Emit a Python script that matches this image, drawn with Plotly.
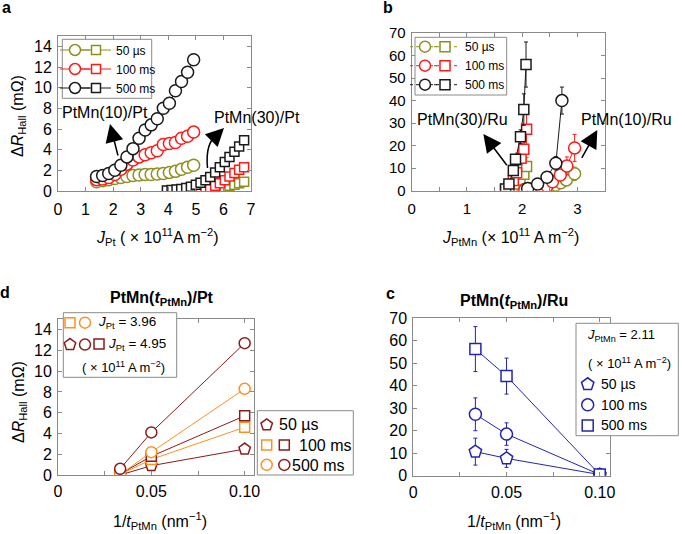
import plotly.graph_objects as go

W, H = 685, 534
FONT = "Arial, Liberation Sans, Helvetica, sans-serif"

OLIVE = "#8f8f1f"
RED = "#ff1a1a"
BLACK = "#1a1a1a"
ORANGE = "#ff9020"
DARKRED = "#8c1b1b"
BLUE = "#2424b0"
GRAY = "#8a8a8a"

# ---------------- panel a : PtMn/Pt, Delta R_Hall vs J_Pt ----------------
a_x_t10 = [1.40, 1.62, 1.84, 2.06, 2.28, 2.50, 2.72, 2.94, 3.16, 3.38, 3.60, 3.82, 4.04, 4.26, 4.48, 4.70, 4.92]
a_t10_50us = [0.9, 1.0, 1.1, 1.2, 1.3, 1.4, 1.5, 1.55, 1.6, 1.6, 1.65, 1.7, 1.8, 1.9, 2.1, 2.3, 2.5]
a_t10_100ms = [1.1, 1.15, 1.3, 1.6, 2.1, 2.6, 3.0, 3.3, 3.5, 3.7, 3.9, 4.5, 4.6, 4.7, 5.1, 5.3, 5.7]
a_t10_500ms = [1.4, 1.5, 1.7, 2.0, 2.5, 3.3, 4.1, 5.1, 5.9, 6.4, 7.0, 8.0, 8.5, 9.7, 10.6, 11.5, 12.7]

a_x_t30 = [3.95, 4.12, 4.30, 4.47, 4.65, 4.82, 5.00, 5.17, 5.35, 5.52, 5.70, 5.87, 6.05, 6.22, 6.40, 6.57, 6.75]
a_t30_50us = [None, None, None, None, None, None, None, None, None, 0.0, 0.1, 0.2, 0.35, 0.5, 0.6, 0.75, 0.9]
a_t30_100ms = [None, None, None, None, None, None, 0.0, 0.05, 0.2, 0.35, 0.5, 0.75, 1.05, 1.4, 1.75, 2.05, 2.3]
a_t30_500ms = [0.05, 0.1, 0.15, 0.2, 0.3, 0.4, 0.6, 0.8, 1.05, 1.35, 1.8, 2.3, 2.8, 3.3, 3.8, 4.3, 4.9]

# ---------------- panel b : PtMn/Ru, Delta R_Hall vs J_PtMn ----------------
b_x_t10_50us = [2.05, 2.17, 2.30, 2.42, 2.50, 2.60, 2.70, 2.80, 2.95]
b_t10_50us = [0.6, 0.8, 1.0, 1.3, 1.8, 2.5, 3.5, 4.8, 7.5]
b_t10_50us_err = [0.2, 0.2, 0.3, 0.3, 0.5, 0.5, 1.0, 1.5, 3.0]
b_x_t10_100ms = [2.05, 2.20, 2.35, 2.45, 2.55, 2.69, 2.81, 2.95]
b_t10_100ms = [0.5, 0.8, 1.2, 2.0, 4.0, 7.0, 11.0, 19.0]
b_t10_100ms_err = [0.3, 0.3, 0.5, 0.5, 1.0, 2.0, 4.0, 6.0]
b_x_t10_500ms = [2.10, 2.28, 2.45, 2.61, 2.72]
b_t10_500ms = [1.0, 3.0, 6.0, 12.2, 40.0]
b_t10_500ms_err = [0.5, 1.0, 1.5, 3.0, 6.0]

b_x_t30_50us = [1.70, 1.76, 1.82, 1.88, 1.96, 2.03, 2.08]
b_t30_50us = [0.5, 1.0, 1.8, 3.0, 4.7, 7.3, 10.7]
b_t30_50us_err = [0.3, 0.5, 0.5, 1.0, 1.5, 2.0, 4.0]
b_x_t30_100ms = [1.70, 1.76, 1.84, 1.90, 1.98, 2.03, 2.08]
b_t30_100ms = [0.5, 1.8, 4.5, 8.0, 14.4, 18.4, 27.3]
b_t30_100ms_err = [0.3, 0.5, 1.0, 2.0, 3.0, 4.0, 7.0]
b_x_t30_500ms = [1.70, 1.76, 1.84, 1.88, 1.97, 2.03, 2.07]
b_t30_500ms = [0.8, 3.0, 9.0, 14.0, 24.0, 36.0, 56.0]
b_t30_500ms_err = [0.5, 1.0, 2.0, 2.0, 3.0, 7.0, 10.0]

# ---------------- panels d and c : vs 1/t_PtMn ----------------
inv_t = [0.0333, 0.05, 0.10]
d_j396_100ms = [0.05, 1.5, 4.6]
d_j396_500ms = [0.05, 2.2, 8.3]
d_j495_50us = [0.0, 0.9, 2.5]
d_j495_100ms = [0.1, 1.8, 5.7]
d_j495_500ms = [0.6, 4.1, 12.7]

c_50us = [10.7, 7.7, 0.5]
c_50us_err = [6.0, 4.0, 0.0]
c_100ms = [27.3, 18.5, 0.5]
c_100ms_err = [7.3, 5.0, 0.0]
c_500ms = [56.3, 44.3, 0.5]
c_500ms_err = [10.0, 8.0, 0.0]

# tick labels
a_xticks = [0, 1, 2, 3, 4, 5, 6, 7]
a_yticks = [0, 2, 4, 6, 8, 10, 12, 14]
b_xticks = [0, 1, 2, 3]
b_yticks = [0, 10, 20, 30, 40, 50, 60, 70]
t_xticks = [0, 0.05, 0.10]
t_xticktext = ["0", "0.05", "0.10"]

pulse_labels = ["50 µs", "100 ms", "500 ms"]


def X(px):
    return px / W


def Y(py):
    return 1 - py / H


fig = go.Figure()


def add(x, y, xa, ya, color, symbol, size, err=None, lw=1):
    fig.add_trace(go.Scatter(
        x=x, y=y, xaxis=xa, yaxis=ya, mode="lines+markers",
        line=dict(color=color, width=lw),
        marker=dict(symbol=symbol, size=size, color="white", line=dict(color=color, width=1.5)),
        error_y=dict(type="data", array=err if err is not None else [], color=color,
                     thickness=1, width=2, visible=err is not None),
        connectgaps=False, showlegend=False, hoverinfo="skip"))


# panel a
add(a_x_t10, a_t10_50us, "x", "y", OLIVE, "circle", 12)
add(a_x_t10, a_t10_100ms, "x", "y", RED, "circle", 12)
add(a_x_t10, a_t10_500ms, "x", "y", BLACK, "circle", 12)
add(a_x_t30, a_t30_50us, "x", "y", OLIVE, "square", 9)
add(a_x_t30, a_t30_100ms, "x", "y", RED, "square", 9)
add(a_x_t30, a_t30_500ms, "x", "y", BLACK, "square", 9)

# panel b
add(b_x_t30_50us, b_t30_50us, "x2", "y2", OLIVE, "square", 10, b_t30_50us_err)
add(b_x_t30_100ms, b_t30_100ms, "x2", "y2", RED, "square", 10, b_t30_100ms_err)
add(b_x_t30_500ms, b_t30_500ms, "x2", "y2", BLACK, "square", 10, b_t30_500ms_err)
add(b_x_t10_50us, b_t10_50us, "x2", "y2", OLIVE, "circle", 12, b_t10_50us_err)
add(b_x_t10_100ms, b_t10_100ms, "x2", "y2", RED, "circle", 12, b_t10_100ms_err)
add(b_x_t10_500ms, b_t10_500ms, "x2", "y2", BLACK, "circle", 12, b_t10_500ms_err)

# panel d
add(inv_t, d_j495_50us, "x3", "y3", DARKRED, "pentagon", 12)
add(inv_t, d_j396_100ms, "x3", "y3", ORANGE, "square", 10)
add(inv_t, d_j495_100ms, "x3", "y3", DARKRED, "square", 10)
add(inv_t, d_j396_500ms, "x3", "y3", ORANGE, "circle", 11)
add(inv_t, d_j495_500ms, "x3", "y3", DARKRED, "circle", 11)

# panel c
add(inv_t, c_50us, "x4", "y4", BLUE, "pentagon", 13, c_50us_err)
add(inv_t, c_100ms, "x4", "y4", BLUE, "circle", 12, c_100ms_err)
add(inv_t, c_500ms, "x4", "y4", BLUE, "square", 11, c_500ms_err)


# ---------------- legend proxies (no data, only legend symbols) ----------------
def proxy(legend, color, symbol, size, lines=False, dash="solid", name=" "):
    fig.add_trace(go.Scatter(
        x=[None], y=[None], mode="lines+markers" if lines else "markers", name=name,
        line=dict(color=color, width=1, dash=dash),
        marker=dict(symbol=symbol, size=size, color="white", line=dict(color=color, width=1.5)),
        legend=legend, showlegend=True, hoverinfo="skip"))


for c in (OLIVE, RED, BLACK):
    proxy("legend", c, "circle", 11, True)
for c, lab in zip((OLIVE, RED, BLACK), pulse_labels):
    proxy("legend2", c, "square", 9, True, name=lab)
for c in (OLIVE, RED, BLACK):
    proxy("legend3", c, "circle", 11, True, "dot")
for c, lab in zip((OLIVE, RED, BLACK), pulse_labels):
    proxy("legend4", c, "square", 10, True, "dot", name=lab)
proxy("legend5", ORANGE, "square", 10)
proxy("legend5", DARKRED, "pentagon", 12)
proxy("legend6", ORANGE, "circle", 11)
proxy("legend6", DARKRED, "circle", 11)
proxy("legend7", DARKRED, "square", 10)
proxy("legend8", DARKRED, "pentagon", 12)
proxy("legend8", ORANGE, "square", 10)
proxy("legend8", ORANGE, "circle", 11)
proxy("legend9", DARKRED, "square", 10)
proxy("legend9", DARKRED, "circle", 11)
proxy("legend10", BLUE, "pentagon", 13)
proxy("legend10", BLUE, "circle", 12)
proxy("legend10", BLUE, "square", 11)


def legend_layout(marker_x, row1_y, fs):
    h = max(fs * 1.3, 16) + 3
    top = row1_y - (5 + h / 2)
    return dict(x=X(marker_x - 20), y=Y(top), xanchor="left", yanchor="top",
                bgcolor="rgba(0,0,0,0)", borderwidth=0,
                font=dict(family=FONT, size=fs, color="black"),
                traceorder="normal", itemwidth=30, tracegroupgap=0)


def axis(domain, rng, anchor, tickvals, ticktext=None, fs=16, standoff=2, minor_dtick=None):
    d = dict(domain=domain, range=rng, anchor=anchor, showline=True, linecolor=GRAY, linewidth=1,
             mirror="ticks", ticks="inside", ticklen=4, tickcolor=GRAY, tickwidth=1,
             showgrid=False, zeroline=False, tickmode="array", tickvals=tickvals,
             tickfont=dict(family=FONT, size=fs, color="black"), fixedrange=True,
             ticklabelstandoff=standoff)
    if ticktext is not None:
        d["ticktext"] = ticktext
    if minor_dtick is not None:
        d["minor"] = dict(ticks="inside", ticklen=4, tickcolor=GRAY, tickwidth=1,
                          tickmode="linear", tick0=0, dtick=minor_dtick, showgrid=False)
    return d


layout = dict(
    width=W, height=H, margin=dict(l=0, r=0, t=0, b=0, pad=0, autoexpand=False),
    paper_bgcolor="white", plot_bgcolor="white",
    font=dict(family=FONT, color="black"),
    xaxis=axis([X(58), X(251)], [0, 7], "y", a_xticks, standoff=4),
    yaxis=axis([Y(191), Y(36)], [0, 15], "x", a_yticks),
    xaxis2=axis([X(411.7), X(605)], [0, 3.5], "y2", b_xticks, fs=15, standoff=4, minor_dtick=0.5),
    yaxis2=axis([Y(190.7), Y(33)], [0, 70], "x2", b_yticks, fs=15),
    xaxis3=axis([X(58), X(254)], [0, 0.105], "y3", t_xticks, t_xticktext, standoff=2, minor_dtick=0.025),
    yaxis3=axis([Y(475), Y(319.3)], [0, 15], "x3", a_yticks),
    xaxis4=axis([X(413.3), X(610)], [0, 0.1055], "y4", t_xticks, t_xticktext, standoff=2, minor_dtick=0.025),
    yaxis4=axis([Y(475.7), Y(318.3)], [0, 70], "x4", b_yticks),
    legend=legend_layout(75, 50, 12),
    legend2=legend_layout(96, 50, 12),
    legend3=legend_layout(425, 46.7, 12),
    legend4=legend_layout(445, 46.7, 12),
    legend5=legend_layout(70, 322.7, 14.5),
    legend6=legend_layout(85, 322.7, 14.5),
    legend7=legend_layout(99, 344, 14.5),
    legend8=legend_layout(266.7, 425, 13),
    legend9=legend_layout(284.3, 445, 13),
    legend10=legend_layout(587.7, 384.3, 13.5),
)
fig.update_layout(**layout)

# legend boxes
boxes = [
    (62.3, 39.3, 151.7, 98.3),
    (415, 37.3, 506.7, 95),
    (63.3, 312.7, 176.7, 377.3),
    (257.3, 410.7, 353.3, 475),
    (576, 323.3, 678.3, 435.7),
]
for (x0, y0, x1, y1) in boxes:
    fig.add_shape(type="rect", xref="paper", yref="paper", x0=X(x0), x1=X(x1), y0=Y(y1), y1=Y(y0),
                  line=dict(color=GRAY, width=1), fillcolor="white", layer="above")

# curved arrow in panel a
fig.add_shape(type="path", xref="paper", yref="paper",
              path=f"M {X(207.5)},{Y(168)} Q {X(205)},{Y(142)} {X(218)},{Y(134)}",
              line=dict(color="black", width=1.5))


def txt(text, x, y, size, xanchor="center", yanchor="middle", angle=0):
    fig.add_annotation(text=text, x=X(x), y=Y(y), xref="paper", yref="paper", showarrow=False,
                       xanchor=xanchor, yanchor=yanchor, textangle=angle,
                       font=dict(family=FONT, size=size, color="black"))


def arrow(hx, hy, tx, ty):
    fig.add_annotation(text="", x=X(hx), y=Y(hy), xref="paper", yref="paper", showarrow=True,
                       ax=tx - hx, ay=ty - hy, arrowhead=2, arrowsize=2.4, arrowwidth=1.5,
                       arrowcolor="black", standoff=0, startstandoff=0)


# panel letters
txt("<b>a</b>", 6, 7, 16)
txt("<b>b</b>", 388, 7, 16)
txt("<b>d</b>", 5, 292, 16)
txt("<b>c</b>", 390, 293, 16)

# axis titles
yt = "Δ<i>R</i><sub>Hall</sub> (mΩ)"
txt(yt, 19, 116, 16, angle=-90)
txt(yt, 19, 402, 16, angle=-90)
txt("<i>J</i><sub>Pt</sub> ( × 10<sup>11</sup>A m<sup>−2</sup>)", 157, 237, 16)
txt("<i>J</i><sub>PtMn</sub> (× 10<sup>11</sup> A m<sup>−2</sup>)", 510, 237, 16)
txt("1/<i>t</i><sub>PtMn</sub> (nm<sup>−1</sup>)", 160, 521, 16)
txt("1/<i>t</i><sub>PtMn</sub> (nm<sup>−1</sup>)", 514, 521, 16)
txt("<b>PtMn(<i>t</i><sub>PtMn</sub>)/Pt</b>", 162, 298, 16)
txt("<b>PtMn(<i>t</i><sub>PtMn</sub>)/Ru</b>", 514, 301, 16)

# in-plot labels and arrows
txt("PtMn(10)/Pt", 105, 113, 16)
txt("PtMn(30)/Pt", 257, 118, 16)
txt("PtMn(30)/Ru", 462.5, 119, 16)
txt("PtMn(10)/Ru", 626, 119, 16)
arrow(110, 124, 118.3, 157)
arrow(224, 128, 218, 134)
arrow(483.3, 134, 508, 166.7)
arrow(597.3, 130, 581, 159.3)

# legend texts (the legends of panels d and c)
txt("<i>J</i><sub>Pt</sub> = 3.96", 96, 322.7, 13.5, xanchor="left")
txt("<i>J</i><sub>Pt</sub> = 4.95", 106, 344, 13.5, xanchor="left")
txt("( × 10<sup>11</sup> A m<sup>−2</sup>)", 80, 366.7, 13, xanchor="left")
txt(pulse_labels[0], 277, 425, 16, xanchor="left")
txt(pulse_labels[1], 297, 445, 16, xanchor="left")
txt(pulse_labels[2], 290, 465, 16, xanchor="left")
txt("<i>J</i><sub>PtMn</sub> = 2.11", 585, 335.7, 13, xanchor="left")
txt("( × 10<sup>11</sup> A m<sup>−2</sup>)", 586, 363.3, 13, xanchor="left")
txt(pulse_labels[0], 599, 384.3, 14, xanchor="left")
txt(pulse_labels[1], 599, 405, 14, xanchor="left")
txt(pulse_labels[2], 599, 425, 14, xanchor="left")

fig.write_html("out.html", config={"displayModeBar": False},
               post_script="document.body.style.margin='0';")
